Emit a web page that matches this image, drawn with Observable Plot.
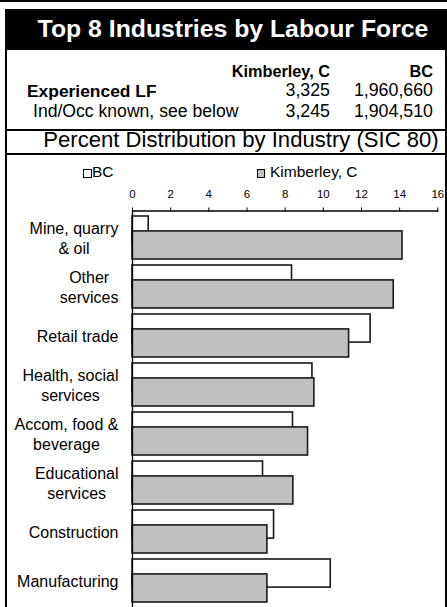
<!DOCTYPE html>
<html><head><meta charset="utf-8">
<script src="https://cdn.jsdelivr.net/npm/d3@7"></script>
<script src="https://cdn.jsdelivr.net/npm/@observablehq/plot@0.6"></script>
<style>
html,body{margin:0;padding:0;background:#fff;}
body{width:447px;height:607px;position:relative;overflow:hidden;font-family:"Liberation Sans",Arial,sans-serif;color:#000;}
.abs{position:absolute;white-space:nowrap;line-height:1;}
.box{position:absolute;}
#chart{position:absolute;left:0;top:155px;}
</style></head><body>
<script>
// ---- data ----
const title = "Top 8 Industries by Labour Force";
const subtitle = "Percent Distribution by Industry (SIC 80)";
const seriesNames = ["BC", "Kimberley, C"];
const rowLabels = ["Experienced LF", "Ind/Occ known, see below"];
const experiencedLF = [1960660, 3325];   // BC, Kimberley, C
const indOccKnown = [1904510, 3245];     // BC, Kimberley, C
const industries = ["Mine, quarry\n& oil", "Other\nservices", "Retail trade", "Health, social\nservices",
  "Accom, food &\nbeverage", "Educational\nservices", "Construction", "Manufacturing"];
const bcPct  = [0.85, 8.36, 12.48, 9.43, 8.41, 6.84, 7.42, 10.39];
const kimPct = [14.15, 13.69, 11.35, 9.53, 9.2, 8.43, 7.07, 7.07];
const xTicks = [0, 2, 4, 6, 8, 10, 12, 14, 16];

// ---- header (HTML) ----
const FONT = "'Liberation Sans', Arial, sans-serif";
const fmt = d3.format(",");
function box(x, y, w, h, bg) {
  const d = document.createElement("div");
  d.className = "box";
  Object.assign(d.style, {left: x + "px", top: y + "px", width: w + "px", height: h + "px", background: bg});
  document.body.appendChild(d); return d;
}
function place(text, x, baseline, size, opts = {}) {
  const d = document.createElement("div");
  d.className = "abs";
  d.textContent = text;
  const anchor = opts.anchor || "start";
  Object.assign(d.style, {
    left: x + "px", top: (baseline - 0.8465 * size) + "px", fontSize: size + "px",
    fontWeight: opts.bold ? "bold" : "normal", color: opts.color || "#000",
    transform: anchor === "end" ? "translateX(-100%)" : anchor === "middle" ? "translateX(-50%)" : "none"
  });
  document.body.appendChild(d); return d;
}
// frame lines
box(0, 0, 447, 1.7, "#000");
box(5, 9, 441.5, 40.5, "#000");
box(5, 9, 1.6, 600, "#000");
box(445.2, 9, 1.6, 600, "#000");
box(5, 129.3, 441.5, 1.7, "#000");
box(5, 153, 441.5, 1.7, "#000");
// title
place(title, 233, 37.8, 24.8, {bold: true, anchor: "middle", color: "#fff"});
// table
const colX = [433, 330]; // BC, Kimberley, C (right edges)
place(seriesNames[1], colX[1], 77, 16.3, {bold: true, anchor: "end"});
place(seriesNames[0], colX[0], 77, 16.3, {bold: true, anchor: "end"});
place(rowLabels[0], 27, 97.5, 17.4, {bold: true});
place(rowLabels[1], 33, 118, 17.6);
[experiencedLF, indOccKnown].forEach((vals, r) => {
  const base = r === 0 ? 97.5 : 118;
  vals.forEach((v, i) => place(fmt(v), colX[i], base, 17.8, {anchor: "end"}));
});
place(subtitle, 241, 148, 22.1, {anchor: "middle"});

// ---- chart (Plot) ----
const W = 447, svgH = 452, mL = 132, mR = 9.7, mT = 55.5;
const colors = {BC: "#ffffff", "Kimberley, C": "#c0c0c0"};
const data = industries.map((name, i) => ({name, bc: bcPct[i], kim: kimPct[i]}));
const xs = Plot.scale({x: {domain: [0, 16], range: [mL, W - mR]}});
const ctx = document.createElement("canvas").getContext("2d");
ctx.font = "16px " + FONT;
const labelRight = 118;
const labelX = name => xs.invert(labelRight - d3.max(name.split("\n"), l => ctx.measureText(l).width) / 2);
const bandW = 43.4, barH = 28.5;

const chart = Plot.plot({
  width: W, height: svgH,
  marginLeft: mL, marginRight: mR, marginTop: mT, marginBottom: 0,
  style: {fontFamily: FONT, fontSize: "11.5px", color: "#000", background: "transparent", overflow: "visible"},
  x: {domain: [0, 16], axis: "top", ticks: xTicks, tickSize: 4, tickPadding: 9.5, label: null},
  y: {domain: industries, axis: null, paddingInner: 0.12, paddingOuter: 0.077},
  marks: [
    Plot.barX(data, {x: "bc", y: "name", fill: colors["BC"], stroke: "#1a1a1a", strokeWidth: 1.6, insetBottom: bandW - barH}),
    Plot.barX(data, {x: "kim", y: "name", fill: colors["Kimberley, C"], stroke: "#1a1a1a", strokeWidth: 1.6, insetTop: bandW - barH}),
    Plot.frame({anchor: "top", strokeWidth: 1.3}),
    Plot.frame({anchor: "left", strokeWidth: 1.3}),
    Plot.text(data, {x: d => labelX(d.name), y: "name", text: "name", textAnchor: "middle", lineAnchor: "middle", fontSize: 16, lineHeight: 1.25})
  ]
});
chart.id = "chart";
document.body.appendChild(chart);

// ---- legend (HTML) ----
const legendPos = [{sq: 83, txt: 92}, {sq: 256.5, txt: 270}];
seriesNames.forEach((s, i) => {
  const sq = box(legendPos[i].sq, 169, 8.5, 8.5, colors[s]);
  sq.style.boxSizing = "border-box";
  sq.style.border = "1.5px solid #000";
  place(s, legendPos[i].txt, 177.5, 15.5);
});
</script>
</body></html>
